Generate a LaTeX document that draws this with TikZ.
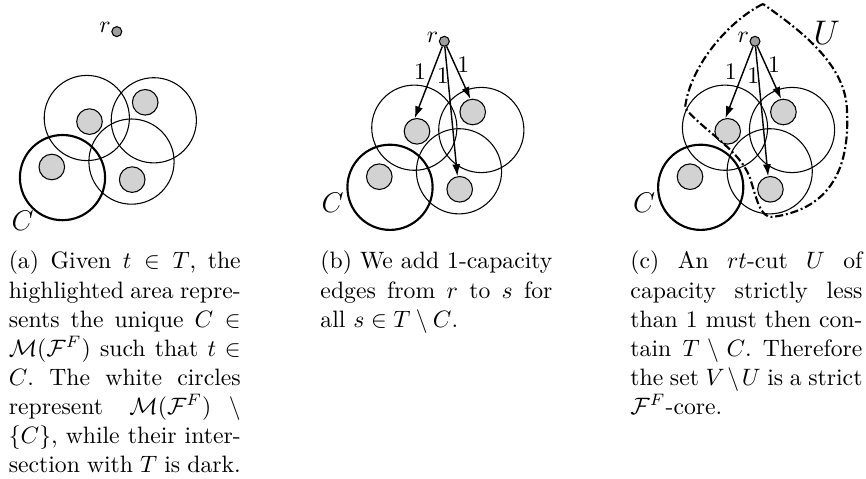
\documentclass[tikz,border=0pt]{standalone}
\usetikzlibrary{arrows.meta}
\begin{document}
\begin{tikzpicture}[x=0.422pt,y=-0.422pt,
  big/.style={circle, draw, line width=0.45pt, minimum size=35.95pt, inner sep=0pt},
  bigC/.style={big, line width=0.9pt},
  term/.style={circle, draw, line width=0.45pt, fill=gray!35, minimum size=10.8pt, inner sep=0pt},
  root/.style={circle, draw, line width=0.45pt, fill=gray!75, minimum size=4.2pt, inner sep=0pt},
  flow/.style={line width=0.6pt, -{Latex[length=5pt,width=3.4pt]}},
  capbox/.style={anchor=north west, inner sep=0pt, text width=97.9pt, align=justify, font=\fontsize{10}{12.26}\selectfont\frenchspacing},
  lbl/.style={inner sep=0pt},
  bigl/.style={inner sep=0pt, font=\fontsize{12}{14}\selectfont},
  cutline/.style={line width=0.9pt, dash pattern=on 3.4pt off 1.2pt on 0.8pt off 1.2pt}
]
\useasboundingbox (0,0) rectangle (866,478);

\foreach \p/\dx/\dy in {a/-327.5/-9.7, b/0/0, c/310.7/0} {
  \begin{scope}[shift={(\dx,\dy)}]
    \node[big]  (\p k1) at (414.3,127.7) {};
    \node[big]  (\p k2) at (481.3,130) {};
    \node[big]  (\p k3) at (459,171.3) {};
    \node[bigC] (\p kc) at (390,187.3) {};
    \node[term] (\p d1) at (417,131.3) {};
    \node[term] (\p d2) at (472.7,112) {};
    \node[term] (\p d3) at (459.7,189.3) {};
    \node[term] (\p d4) at (379.3,176.7) {};
    \node[root] (\p r) at (444.3,41.3) {};
    \node[lbl, anchor=base east] (\p rl) at ([yshift=-0.4pt]\p r.west) {$r$};
  \end{scope}
}

% C labels
\node[bigl] (aC) at (22.5,220.5) {$C$};
\node[bigl] (bC) at (332.5,203) {$C$};
\node[bigl] (cC) at (644,203) {$C$};

% arrows panel (b) and (c)
\foreach \p/\dx in {b/0, c/310.7} {
  \draw[flow] (\p r) -- (\p d1.100);
  \draw[flow] (\p r) -- (\p d3.100);
  \draw[flow] (\p r) -- (\p d2.100);
  \begin{scope}[shift={(\dx,0)}]
    \node[lbl] (\p l1) at (420,72) {$1$};
    \node[lbl] (\p l2) at (442.7,75.8) {$1$};
    \node[lbl] (\p l3) at (463.3,65) {$1$};
  \end{scope}
}

% the cut U
\draw[cutline] (763,4) .. controls (730,20) and (690,65) .. (685,108)
  .. controls (705,132) and (740,150) .. (750,178)
  .. controls (757,200) and (760,217) .. (772,217)
  .. controls (825,210) and (850,175) .. (847,112)
  .. controls (847,65) and (800,30) .. (763,4) -- cycle;
\node[inner sep=0pt, font=\fontsize{13.5}{16}\selectfont] (Ul) at (826.7,32.5) {$U$};

% captions
\node[capbox] (capa) at (8.3,250.7) {\noindent(a) Given $t \in T$, the\break
highlighted area repre-\break
sents the unique $C \in \break \mathcal{M}(\mathcal{F}^F)$ such that $t \in \break C$.
The white circles\break
represent $\mathcal{M}(\mathcal{F}^F) \setminus \break \{C\}$, while their inter-\break
section with $T$ is dark.};

\node[capbox] (capb) at (320,250.7) {\noindent(b) We add 1-capacity\break
edges from $r$ to $s$ for\break
all $s \in T \setminus C$.};

\node[capbox] (capc) at (630,250.7) {\noindent(c) An $rt$-cut $U$ of\break
capacity strictly less\break
than 1 must then con-\break
tain $T \setminus C$. Therefore\break
the set $V \setminus U$ is a strict\break
$\mathcal{F}^F$-core.};
\end{tikzpicture}
\end{document}
